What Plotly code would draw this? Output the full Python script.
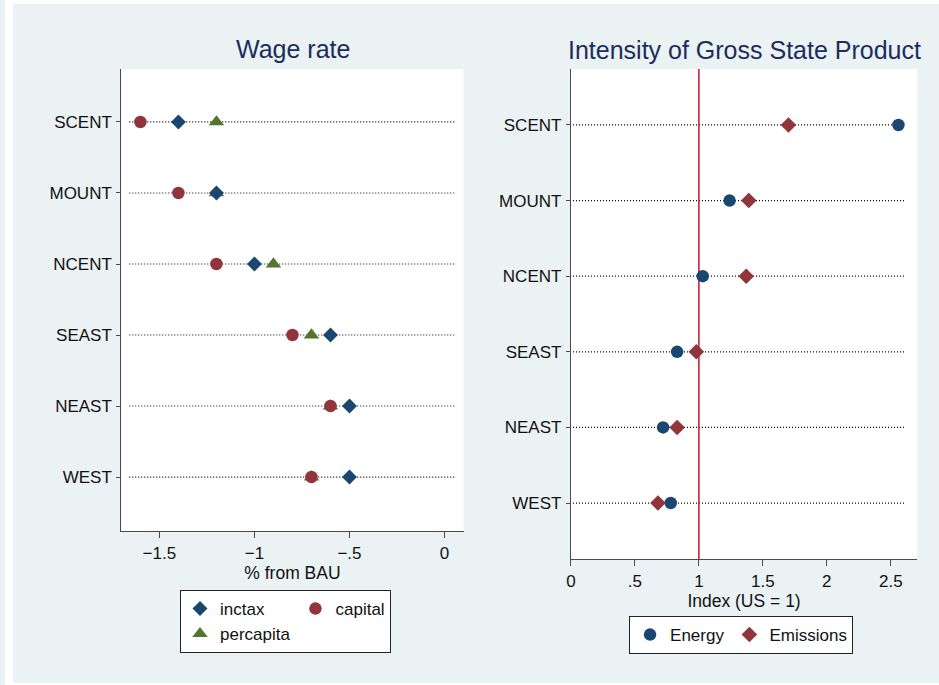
import plotly.graph_objects as go

# ---------------- data ----------------
regions = ["SCENT", "MOUNT", "NCENT", "SEAST", "NEAST", "WEST"]

inctax = [-1.4, -1.2, -1.0, -0.6, -0.5, -0.5]
capital = [-1.6, -1.4, -1.2, -0.8, -0.6, -0.7]
percapita = [-1.2, -1.2, -0.9, -0.7, -0.6, -0.7]

energy = [2.56, 1.24, 1.03, 0.83, 0.72, 0.78]
emissions = [1.70, 1.39, 1.37, 0.98, 0.83, 0.68]

left_tickvals = [-1.5, -1.0, -0.5, 0.0]
left_ticktext = ["\u22121.5", "\u22121", "\u2212.5", "0"]
right_tickvals = [0, 0.5, 1.0, 1.5, 2.0, 2.5]
right_ticktext = ["0", ".5", "1", "1.5", "2", "2.5"]
reference_value = 1.0

# ---------------- style ----------------
W, H = 939, 685
NAVY = "#1a476f"
MAROON = "#90353b"
GREEN = "#55752f"
BG = "#eaf2f3"
TITLE_C = "#1c2d5c"
FONT = "Liberation Sans, Arial, sans-serif"
TXT = "#111111"

def px_x(p):
    return p / W

def px_y(p):
    return 1 - p / H

fig = go.Figure()

# left panel (draw order: percapita underneath)
fig.add_trace(go.Scatter(x=percapita, y=regions, mode="markers", name="percapita",
                         marker=dict(symbol="triangle-up", size=13.5, color=GREEN, line=dict(width=0)),
                         xaxis="x", yaxis="y", legend="legend", legendgroup="g1", legendrank=3))
fig.add_trace(go.Scatter(x=inctax, y=regions, mode="markers", name="inctax",
                         marker=dict(symbol="diamond", size=11.5, color=NAVY, line=dict(width=0)),
                         xaxis="x", yaxis="y", legend="legend", legendgroup="g1", legendrank=1))
fig.add_trace(go.Scatter(x=capital, y=regions, mode="markers", name="capital",
                         marker=dict(symbol="circle", size=12.5, color=MAROON, line=dict(width=0)),
                         xaxis="x", yaxis="y", legend="legend", legendgroup="g2", legendrank=2))

# right panel
fig.add_trace(go.Scatter(x=energy, y=regions, mode="markers", name="Energy",
                         marker=dict(symbol="circle", size=12.5, color=NAVY, line=dict(width=0)),
                         xaxis="x2", yaxis="y2", legend="legend2"))
fig.add_trace(go.Scatter(x=emissions, y=regions, mode="markers", name="Emissions",
                         marker=dict(symbol="diamond", size=12, color=MAROON, line=dict(width=0)),
                         xaxis="x2", yaxis="y2", legend="legend2"))

cat_order = list(reversed(regions))  # bottom to top

shapes = []
# dotted category lines
for r in regions:
    shapes.append(dict(type="line", xref="x domain", yref="y", x0=0.023, x1=0.977, y0=r, y1=r,
                       line=dict(color="#000000", width=1.2, dash="1px,2px"), layer="below"))
    shapes.append(dict(type="line", xref="x2 domain", yref="y2", x0=0.006, x1=0.968, y0=r, y1=r,
                       line=dict(color="#000000", width=1.2, dash="1px,2px"), layer="below"))
# reference line x = 1
shapes.append(dict(type="line", xref="x2", yref="y2 domain", x0=reference_value, x1=reference_value,
                   y0=0, y1=1, line=dict(color="#c8102e", width=1.5), layer="below"))
# white page margins around the light background
shapes.append(dict(type="rect", xref="paper", yref="paper", x0=0, x1=px_x(8), y0=0, y1=1,
                   fillcolor="white", line=dict(width=0), layer="above"))
shapes.append(dict(type="rect", xref="paper", yref="paper", x0=0, x1=1, y0=px_y(4), y1=1,
                   fillcolor="white", line=dict(width=0), layer="above"))
shapes.append(dict(type="rect", xref="paper", yref="paper", x0=0, x1=1, y0=0, y1=px_y(683),
                   fillcolor="white", line=dict(width=0), layer="above"))

axis_common = dict(showgrid=False, zeroline=False, showline=True, linecolor="#4a4a4a", linewidth=1.3,
                   ticks="outside", tickcolor="#4a4a4a", tickwidth=1.3,
                   tickfont=dict(family=FONT, size=17, color=TXT))

fig.update_layout(
    width=W, height=H,
    margin=dict(l=0, r=0, t=0, b=0),
    paper_bgcolor=BG, plot_bgcolor="white",
    font=dict(family=FONT, size=17, color=TXT),
    showlegend=True,
    xaxis=dict(domain=[px_x(117), px_x(461)], anchor="y", range=[-1.7, 0.1],
               tickvals=left_tickvals, ticktext=left_ticktext, ticklen=6,
               title=dict(text="% from BAU", standoff=3, font=dict(family=FONT, size=17.5, color=TXT)),
               **axis_common),
    yaxis=dict(domain=[px_y(531), px_y(69)], anchor="x", type="category",
               categoryorder="array", categoryarray=cat_order, range=[-0.76, 5.746],
               ticklen=4, ticklabelstandoff=1, **axis_common),
    xaxis2=dict(domain=[px_x(569), px_x(917)], anchor="y2", range=[0, 2.706],
                tickvals=right_tickvals, ticktext=right_ticktext, ticklen=6,
                title=dict(text="Index (US = 1)", standoff=3, font=dict(family=FONT, size=17.5, color=TXT)),
                **axis_common),
    yaxis2=dict(domain=[px_y(559), px_y(69)], anchor="x2", type="category",
                categoryorder="array", categoryarray=cat_order, range=[-0.74, 5.74],
                ticklen=4, ticklabelstandoff=1, **axis_common),
    legend=dict(orientation="h", traceorder="grouped", tracegroupgap=0,
                x=px_x(282), xanchor="center", y=px_y(590), yanchor="top",
                bgcolor="white", bordercolor="#222222", borderwidth=1,
                font=dict(family=FONT, size=17, color=TXT), itemclick=False),
    legend2=dict(orientation="h",
                 x=px_x(740), xanchor="center", y=px_y(616), yanchor="top",
                 bgcolor="white", bordercolor="#222222", borderwidth=1,
                 font=dict(family=FONT, size=17, color=TXT), itemclick=False),
    shapes=shapes,
    annotations=[
        dict(text="Wage rate", xref="paper", yref="paper", x=px_x(290), y=px_y(49),
             xanchor="center", yanchor="middle", showarrow=False,
             font=dict(family=FONT, size=25, color=TITLE_C)),
        dict(text="Intensity of Gross State Product", xref="paper", yref="paper",
             x=px_x(743), y=px_y(50), xanchor="center", yanchor="middle", showarrow=False,
             font=dict(family=FONT, size=25, color=TITLE_C)),
    ],
)

fig.write_html("out.html", config={"displayModeBar": False},
               post_script="document.body.style.margin='0';")
